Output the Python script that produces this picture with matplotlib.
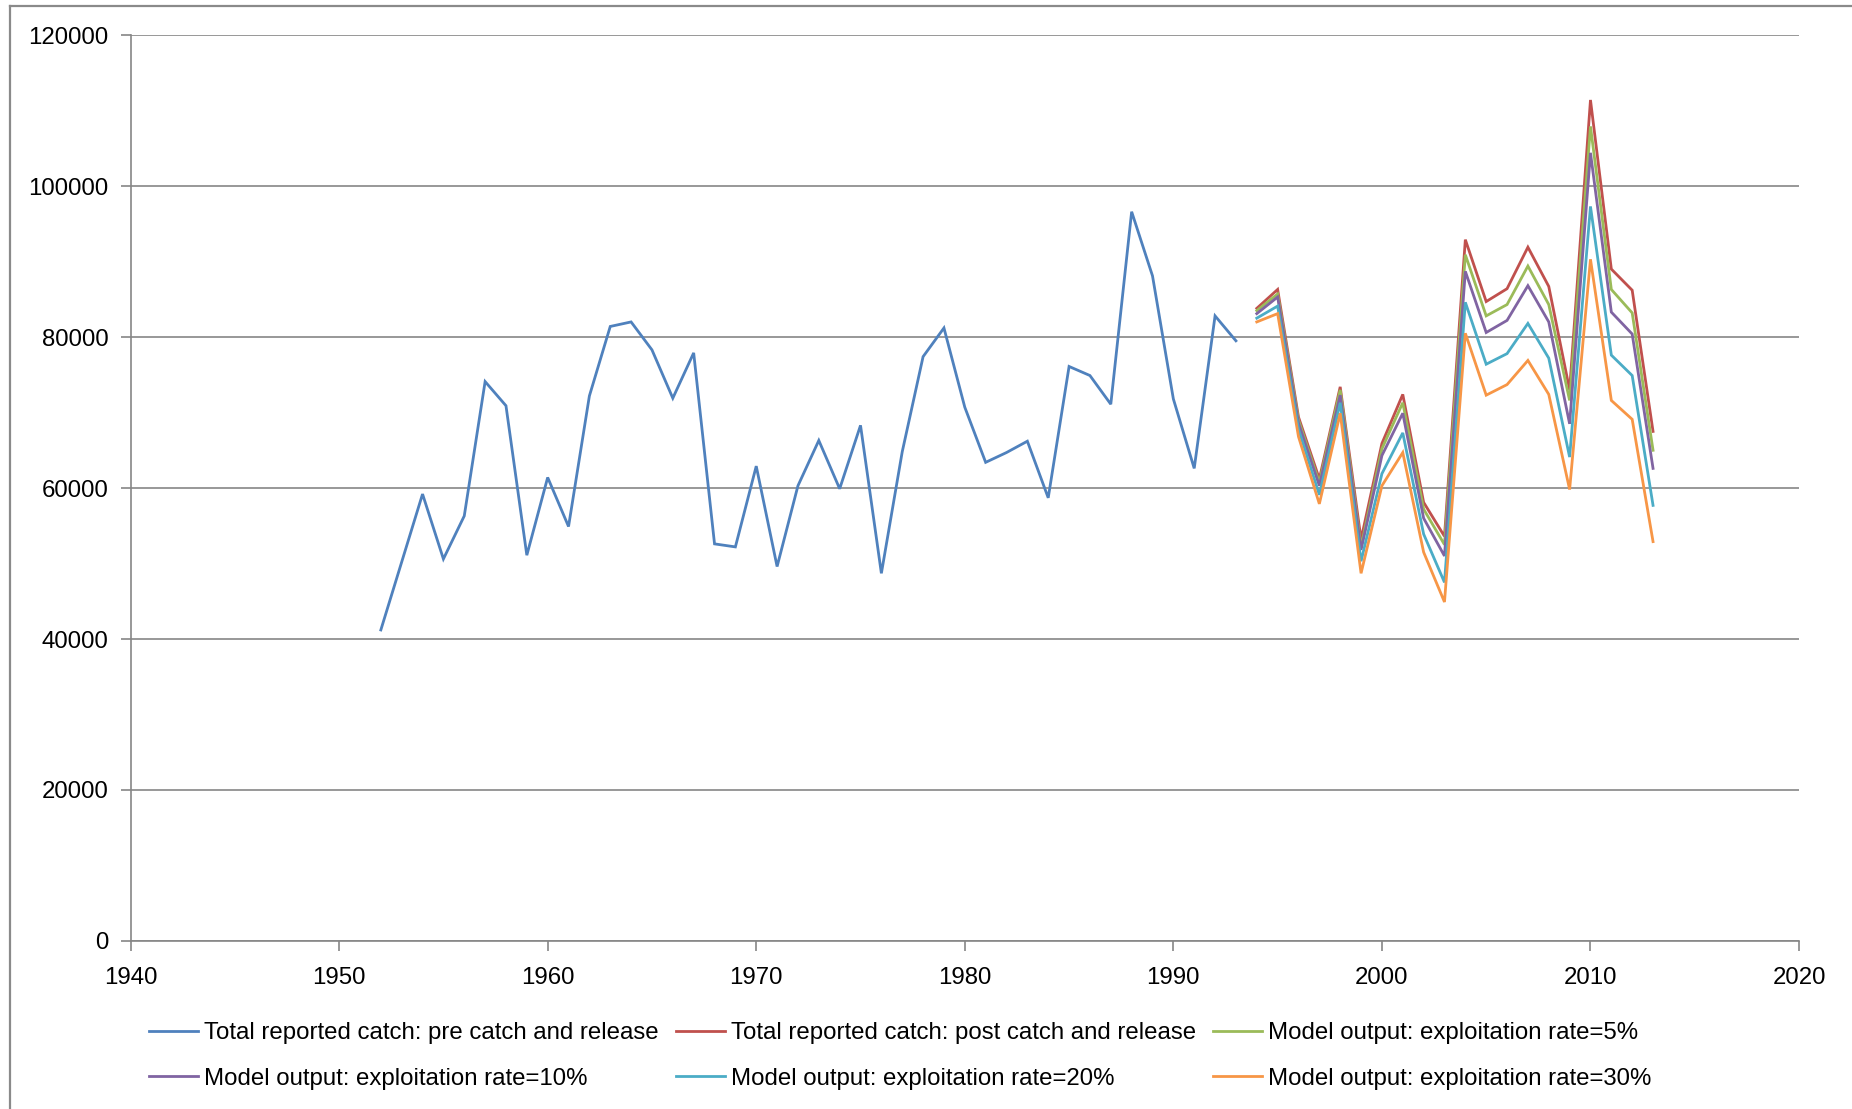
import matplotlib
matplotlib.use("Agg")
import matplotlib.pyplot as plt
from matplotlib.lines import Line2D

plt.rcParams["font.family"] = ["Liberation Sans", "DejaVu Sans"]

# ── データ──
YEARS_PRE = list(range(1952, 1994))
CATCH_PRE = [
    41200, 50200, 59200, 50600, 56300, 74100, 70900, 51100, 61400, 54900,
    72200, 81400, 82000, 78300, 71900, 77900, 52600, 52200, 62900, 49600,
    60300, 66300, 59900, 68300, 48700, 64800, 77400, 81200, 70700, 63400,
    64700, 66200, 58700, 76100, 74900, 71100, 96600, 88100, 71800, 62600,
    82800, 79500,
]

YEARS_POST = list(range(1994, 2014))
CATCH_POST = [
    83800, 86300, 69400, 61200, 73400, 53200, 65900, 72400, 58100, 53600,
    92900, 84700, 86400, 91900, 86700, 73000, 111400, 89000, 86200, 67500,
]
RATE_5 = [
    83500, 85700, 69000, 60700, 73000, 52200, 65200, 71300, 57200, 52500,
    90900, 82800, 84300, 89400, 84300, 71600, 107900, 86300, 83200, 65000,
]
RATE_10 = [
    83100, 85300, 68600, 60300, 72300, 51800, 64300, 69900, 56000, 51000,
    88700, 80600, 82200, 86800, 82000, 68500, 104400, 83300, 80400, 62600,
]
RATE_20 = [
    82500, 84100, 67800, 59100, 71300, 50300, 61900, 67300, 53900, 47500,
    84600, 76400, 77800, 81800, 77200, 64100, 97300, 77600, 74900, 57700,
]
RATE_30 = [
    82000, 83100, 66800, 57900, 69900, 48700, 60300, 64700, 51500, 44900,
    80500, 72300, 73700, 76900, 72400, 59800, 90300, 71600, 69100, 52900,
]

LABELS = [
    "Total reported catch: pre catch and release",
    "Total reported catch: post catch and release",
    "Model output: exploitation rate=5%",
    "Model output: exploitation rate=10%",
    "Model output: exploitation rate=20%",
    "Model output: exploitation rate=30%",
]
COLORS = ["#4F81BD", "#C0504D", "#9BBB59", "#8064A2", "#4BACC6", "#F79646"]

X_TICKS = [1940, 1950, 1960, 1970, 1980, 1990, 2000, 2010, 2020]
Y_TICKS = [0, 20000, 40000, 60000, 80000, 100000, 120000]

GRID = "#868686"
FS = 17.3

fig = plt.figure(figsize=(18.52, 11.09), dpi=100)
ax = fig.add_axes([0.0705, 0.1515, 0.9009, 0.8169])

series = [
    (YEARS_PRE, CATCH_PRE),
    (YEARS_POST, CATCH_POST),
    (YEARS_POST, RATE_5),
    (YEARS_POST, RATE_10),
    (YEARS_POST, RATE_20),
    (YEARS_POST, RATE_30),
]
handles = []
for (xs, ys), lab, col in zip(series, LABELS, COLORS):
    h, = ax.plot(xs, ys, color=col, lw=2.0, label=lab, solid_joinstyle="miter")
    handles.append(h)

ax.set_xlim(1940, 2020)
ax.set_ylim(0, 120000)
ax.set_xticks(X_TICKS)
ax.set_yticks(Y_TICKS)
ax.yaxis.grid(True, color=GRID, lw=1.2)
ax.set_axisbelow(True)
for side in ("top", "right"):
    ax.spines[side].set_visible(False)
for side in ("left", "bottom"):
    ax.spines[side].set_color(GRID)
    ax.spines[side].set_linewidth(1.2)
ax.tick_params(axis="both", colors=GRID, labelcolor="black", labelsize=FS,
               length=7, width=1.2)
ax.tick_params(axis="y", pad=9)
ax.tick_params(axis="x", pad=12)

# 凡例は行方向に並べる（Excel 風）
order = [0, 3, 1, 4, 2, 5]
fig.legend([handles[i] for i in order], [LABELS[i] for i in order],
           loc="lower left", bbox_to_anchor=(0.0687, -0.002), ncol=3,
           frameon=False, fontsize=FS, handlelength=2.05, handletextpad=0.25,
           columnspacing=0.7, labelspacing=0.97)

# 外枠（上と左だけ見えている）
fig.add_artist(Line2D([10 / 1852, 10 / 1852], [0, 1 - 6 / 1109],
                      transform=fig.transFigure, color="#8a8a8a", lw=1.6))
fig.add_artist(Line2D([10 / 1852, 1], [1 - 6 / 1109, 1 - 6 / 1109],
                      transform=fig.transFigure, color="#8a8a8a", lw=1.6))

fig.savefig("out.png", dpi=100)
